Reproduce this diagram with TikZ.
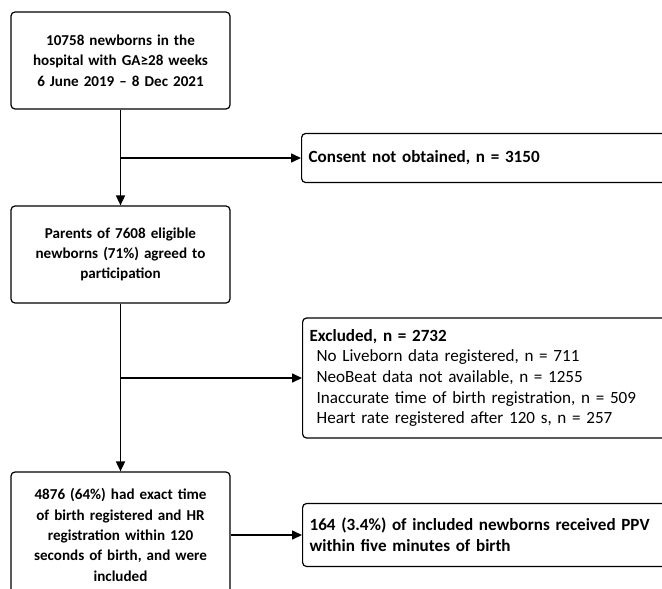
\documentclass[tikz,border=0pt]{standalone}
\usepackage{fontspec}
\setmainfont{Carlito}
\usetikzlibrary{arrows.meta,positioning}

\newcommand{\mainfont}{\fontsize{15.1}{20.3}\selectfont}
\newcommand{\sidefont}{\fontsize{17.1}{20.6}\selectfont}

\tikzset{
  mainbox/.style={draw, rounded corners=4pt, line width=1.2pt, align=center,
    text width=210pt, minimum width=219pt, font=\mainfont\bfseries},
  sidebox/.style={draw, rounded corners=4pt, line width=1.2pt, align=left,
    anchor=west, text width=390pt, inner xsep=7pt, font=\sidefont},
  flow/.style={line width=1.6pt, -{Triangle[length=10pt,width=9pt]}}
}

\begin{document}
\begin{tikzpicture}[x=1pt, y=-1pt]
  \useasboundingbox (0,0) rectangle (662,589);

  % Main column
  \node[mainbox, minimum height=97pt] (born) at (120.5,60.5)
    {10758 newborns in the\\hospital with GA≥28 weeks\\6 June 2019 -- 8 Dec 2021};
  \node[mainbox, minimum height=97pt] (agreed) at (120.5,254.5)
    {Parents of 7608 eligible\\newborns (71\%) agreed to\\participation};
  \node[mainbox, minimum height=126pt] (incl) at (120.5,535)
    {4876 (64\%) had exact time\\of birth registered and HR\\registration within 120\\seconds of birth, and were\\included};

  % Side boxes
  \node[sidebox, minimum height=49pt, font=\sidefont\bfseries] (consent) at (301,158)
    {Consent not obtained, n = 3150};
  \node[sidebox, minimum height=120pt] (excl) at (302,378)
    {\textbf{Excluded, n = 2732}\\
     \hspace*{7pt}No Liveborn data registered, n = 711\\
     \hspace*{7pt}NeoBeat data not available, n = 1255\\
     \hspace*{7pt}Inaccurate time of birth registration, n = 509\\
     \hspace*{7pt}Heart rate registered after 120 s, n = 257};
  \node[sidebox, minimum height=63pt, font=\sidefont\bfseries] (ppv) at (302,535)
    {164 (3.4\%) of included newborns received PPV\\within five minutes of birth};

  % Branch points
  \coordinate (b1) at (120.5,158);
  \coordinate (b2) at (120.5,378);

  % Arrows
  \draw[flow] (born) -- (agreed);
  \draw[flow] (agreed) -- (incl);
  \draw[flow] (b1) -- (consent.west);
  \draw[flow] (b2) -- (excl.west);
  \draw[flow] (incl.east) -- (ppv.west);
\end{tikzpicture}
\end{document}
